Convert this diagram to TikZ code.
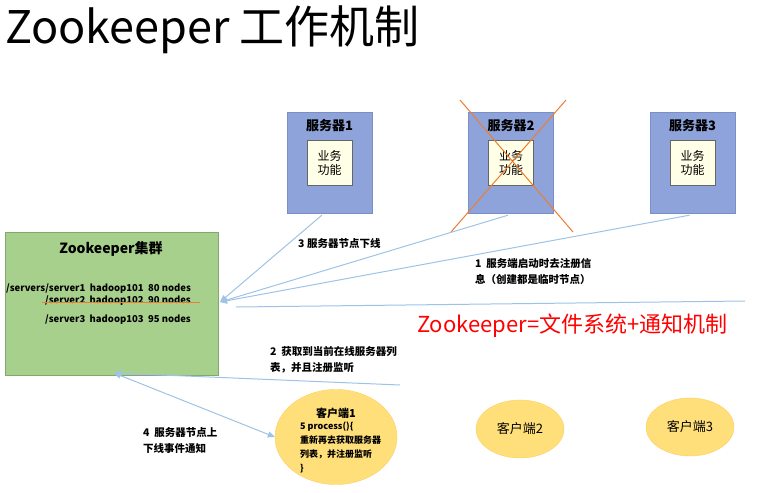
\documentclass[tikz,border=0pt]{standalone}
\usepackage{fontspec}
\setmainfont{Noto Sans CJK SC}
\usetikzlibrary{arrows.meta,shapes.geometric}
\definecolor{srv}{HTML}{8EA3D9}
\definecolor{srvb}{HTML}{7A8FC8}
\definecolor{grn}{HTML}{A8D08D}
\definecolor{ell}{HTML}{FFDF7A}
\definecolor{lin}{HTML}{9DC3E6}
\definecolor{cross}{HTML}{ED7D31}
\begin{document}
\begin{tikzpicture}[x=1pt,y=-1pt,
  server/.style={draw=srvb,fill=srv,minimum width=85pt,minimum height=101pt,inner sep=0pt},
  inner/.style={draw=black!60,fill=white!90!yellow,minimum width=45pt,minimum height=45pt,align=center,font=\fontsize{12}{14}\selectfont,inner sep=0pt},
  stitle/.style={font=\bfseries\fontsize{13}{15}\selectfont},
  client/.style={ellipse,draw=ell!80!orange,fill=ell,inner sep=0pt},
  conn/.style={draw=lin,line width=1pt},
  arr/.style={conn,-{Triangle[width=6pt,length=7pt]}},
  lbl/.style={font=\bfseries\fontsize{10.5}{16}\selectfont,align=left,anchor=north west,inner sep=0pt}]
\useasboundingbox (0,0) rectangle (775,492);
\node[anchor=north west,inner sep=0pt,font=\fontsize{45}{50}\selectfont] (title) at (5,6) {Zookeeper 工作机制};
% servers
\foreach \n/\x in {1/329.5,2/511,3/692.5}{
  \node[server] (s\n) at (\x,162.5) {};
  \node[stitle,anchor=north] (t\n) at (\x,116) {服务器\n};
  \node[inner] (i\n) at (\x,163) {业务\\功能};
}
\draw[cross,line width=1pt] (460,100) -- (573,232);
\draw[cross,line width=1pt] (566,100) -- (451,232);
% cluster
\node[draw=grn!80!black,fill=grn,minimum width=213pt,minimum height=143pt,anchor=north west,inner sep=0pt] (zk) at (5,232) {};
\node[font=\bfseries\fontsize{14}{16}\selectfont] (zkt) at (111,249) {Zookeeper集群};
\node[font=\bfseries\fontsize{9.5}{11}\selectfont,anchor=west,inner sep=0pt] (r1) at (6,289) {/servers/server1\ \ hadoop101\ \ 80 nodes};
\node[font=\bfseries\fontsize{9.5}{11}\selectfont,anchor=west,inner sep=0pt] (r2) at (45,301) {/server2\ \ hadoop102\ \ 90 nodes};
\node[font=\bfseries\fontsize{9.5}{11}\selectfont,anchor=west,inner sep=0pt] (r3) at (45,320) {/server3\ \ hadoop103\ \ 95 nodes};
\draw[cross,line width=0.8pt] (42,302) -- (200,302);
% clients
\node[client,minimum width=122pt,minimum height=95pt] (c1) at (336,437) {};
\node[font=\bfseries\fontsize{11}{13}\selectfont] (c1t) at (336,413) {客户端1};
\node[font=\bfseries\fontsize{9}{14}\selectfont,align=left,anchor=north west,inner sep=0pt] (c1b) at (300,422) {5 process()\{\\重新再去获取服务器\\列表，并注册监听\\\}};
\node[client,minimum width=88pt,minimum height=58pt,font=\fontsize{13}{15}\selectfont] (c2) at (520,429) {客户端2};
\node[client,minimum width=88pt,minimum height=58pt,font=\fontsize{13}{15}\selectfont] (c3) at (690,427) {客户端3};
% connectors
\coordinate (zkin) at (220,302);
\draw[arr] (s1.south west) ++(35,2) coordinate (a1) -- (zkin);
\draw[arr] (s2.south) ++(-3,2) coordinate (a2) -- (zkin);
\draw[arr] (s3.south) ++(-3,2) coordinate (a3) -- (zkin);
\coordinate (hl1) at (236,307); \coordinate (hl2) at (745,301);
\draw[conn] (hl1) -- (hl2);
\coordinate (zkb) at (114,373);
\coordinate (c1r) at (400,385);
\draw[arr] (c1r) -- (zkb);
\draw[conn,{Triangle[width=6pt,length=7pt]}-{Triangle[width=6pt,length=7pt]}] (zkb) -- (c1.west);
% labels
\node[lbl] (l3) at (298,238) {3 服务器节点下线};
\node[lbl] (l1) at (475,258) {1\ \ 服务端启动时去注册信\\息（创建都是临时节点）};
\node[font=\fontsize{22}{24}\selectfont,text=red,anchor=west,inner sep=0pt] (eq) at (417,326) {Zookeeper=文件系统+通知机制};
\node[lbl] (l2) at (270,346) {2\ \ 获取到当前在线服务器列\\表，并且注册监听};
\node[lbl] (l4) at (143,427) {4\ \ 服务器节点上\\下线事件通知};
\end{tikzpicture}
\end{document}
